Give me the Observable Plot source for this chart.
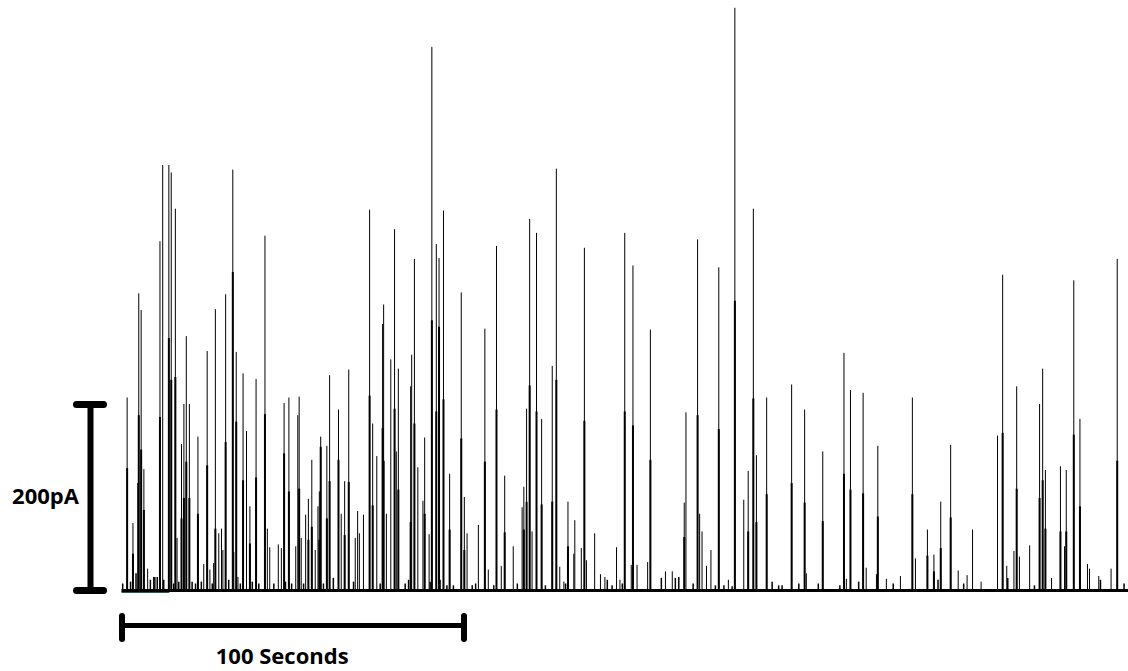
<!DOCTYPE html>
<html><head><meta charset="utf-8">
<script src="https://cdn.jsdelivr.net/npm/d3@7"></script>
<script src="https://cdn.jsdelivr.net/npm/@observablehq/plot@0.6"></script>
<style>html,body{margin:0;padding:0;background:#fff;} #chart svg{display:block;}</style>
</head><body><div id="chart"></div>
<script>
// Each spike: [time (s), peak amplitude (pA), shoulder amplitude (pA) or null]
const spikes = [
[1.5,207,131],[3.2,72,39],[4.6,115,null],[4.9,319,188],[5.6,301,151],[6.4,130,86],[7.5,23,null],[9.2,14,null],
[11.1,375,186],[11.9,457,null],[13.7,457,271],[14.4,449,226],[15.6,410,229],[16.1,56,null],[17.4,157,77],[18.1,200,99],
[18.8,273,138],[19.7,200,99],[22.2,165,82],[23.9,28,null],[24.9,257,134],[25.7,22,null],[26.8,29,null],[27.3,302,66],
[28.3,61,null],[29.1,66,null],[29.5,43,null],[30.3,318,159],[32.4,452,342],[32.7,41,null],[33.4,256,181],[33.9,14,null],
[35.4,233,118],[36.4,171,null],[37.4,90,50],[39.2,227,121],[41.8,381,189],[42.5,66,null],[43.2,46,null],[45.7,49,null],
[46.6,45,null],[47.4,201,147],[48.8,207,106],[50.8,47,null],[51.4,188,null],[51.8,208,109],[52.4,56,null],[53.7,81,null],
[54.5,98,54],[55.5,140,68],[56.5,43,null],[57.3,90,null],[57.7,106,54],[58.1,165,154],[59.9,155,77],[60.7,231,117],
[63.3,194,140],[64.1,82,null],[65.1,117,59],[66.3,237,116],[68.2,56,null],[68.9,85,null],[69.4,61,null],[70.6,81,null],
[72.4,409,209],[73.3,179,91],[74.5,144,null],[76.2,286,174],[76.5,307,139],[77.3,82,null],[78.6,248,null],[79.7,388,195],
[80.2,149,null],[80.8,238,108],[84.4,219,73],[84.7,253,null],[85.5,356,179],[86.5,132,null],[88.0,96,null],[88.5,164,82],
[89.8,60,null],[90.6,584,290],[91.9,372,192],[92.7,357,283],[94.0,408,205],[95.8,125,65],[99.2,320,163],[100.1,100,43],
[100.9,61,null],[104.2,70,null],[106.1,281,138],[107.1,22,null],[109.5,370,194],[110.9,26,null],[111.9,123,62],[114.4,47,null],
[117.0,89,null],[117.5,111,65],[118.3,195,95],[119.2,399,220],[119.9,63,null],[121.2,384,192],[122.7,184,92],[125.8,241,95],
[127.0,453,226],[128.0,25,null],[129.2,9,null],[130.4,95,47],[132.1,39,null],[132.4,75,null],[134.3,45,null],[135.2,368,182],
[135.8,32,null],[138.2,61,null],[139.9,17,null],[141.2,14,null],[144.6,46,null],[145.6,11,null],[147.0,384,192],[148.9,27,null],
[149.4,349,177],[150.6,27,null],[153.7,30,null],[154.5,280,140],[158.9,20,null],[160.9,20,null],[164.4,94,57],[164.9,191,null],
[168.3,377,188],[168.9,82,null],[169.6,63,null],[170.9,26,null],[172.2,43,null],[174.5,347,173],[177.3,11,null],[179.2,626,311],
[181.8,97,null],[183.1,128,63],[184.6,410,206],[185.5,145,73],[188.5,207,103],[195.8,221,115],[199.6,194,94],[200.1,18,null],
[204.9,149,74],[211.1,255,125],[211.8,12,null],[213.0,215,108],[216.7,212,104],[217.6,24,null],[220.6,17,null],[221.0,155,79],
[223.5,12,null],[227.6,15,null],[231.1,207,103],[232.0,34,null],[235.5,65,37],[237.4,38,20],[239.4,95,45],[242.3,156,78],
[244.5,21,null],[247.1,16,null],[248.7,65,null],[251.2,9,null],[256.0,166,null],[257.5,339,169],[258.7,26,null],[260.8,42,null],
[261.6,219,109],[262.4,36,null],[265.4,48,null],[268.3,200,99],[269.2,238,118],[270.0,129,66],[271.8,13,null],[274.4,133,63],
[275.6,47,null],[276.1,129,63],[278.3,333,167],[280.1,184,90],[282.3,28,null],[282.9,23,null],[285.6,15,null],[289.2,23,null],
[291.0,356,139]
];
// Small baseline events: [time (s), amplitude (pA)]
const minorEvents = [
[0.2,7],[2.5,9],[4.1,18],[8.3,11],[9.6,14],[10.3,14],[12.2,11],[15.1,7],[16.6,9],[20.5,9],[21.5,7],[23.2,9],[26.4,7],
[31.2,11],[34.6,7],[38.1,9],[40.0,7],[44.4,7],[47.8,9],[49.6,7],[53.1,7],[58.9,7],[61.8,13],[67.7,9],[75.5,7],[82.8,7],
[83.8,11],[90.1,9],[93.0,11],[95.0,5],[96.9,5],[102.4,5],[103.4,7],[108.7,5],[115.6,7],[123.8,5],[129.7,7],[141.9,11],
[143.3,5],[146.3,7],[157.7,13],[161.8,13],[162.8,14],[167.0,7],[173.5,5],[176.0,5],[178.4,4],[190.1,9],[192.0,5],[193.0,5],
[197.9,7],[203.6,7],[209.9,5],[215.4,9],[225.5,7],[238.6,11],[246.1,7],[259.0,13],[266.8,5],[286.1,11],[293.0,7]
];
const scaleBarTime = 100;      // seconds
const scaleBarCurrent = 200;   // pA
const timeLabel = "100 Seconds";
const currentLabel = "200pA";
const recordingEnd = 294.3;    // seconds

const spikeData = spikes.map(([t, peak, shoulder]) => ({t, peak, shoulder}));
const shoulderData = spikeData.filter(d => d.shoulder != null);
const minorData = minorEvents.map(([t, amp]) => ({t, amp}));

// Layout: page pixels <-> data units
const W = 1128, H = 671;
const pxPerSec = 3.42, pxPerPA = 0.93, x0 = 121.5, y0 = 590;
const px2t = px => (px - x0) / pxPerSec;
const px2a = py => (y0 - py) / pxPerPA;

const chart = Plot.plot({
  width: W, height: H, margin: 0,
  style: {background: "#fff"},
  x: {domain: [px2t(0), px2t(W)], axis: null},
  y: {domain: [px2a(H), px2a(0)], axis: null},
  marks: [
    Plot.ruleY([px2a(591.8)], {x1: 0, x2: 14, stroke: "#2e5a5a", strokeWidth: 1.5}),
    Plot.ruleY([0], {x1: 0, x2: recordingEnd, stroke: "#000", strokeWidth: 3}),
    Plot.ruleX(minorData, {x: "t", y1: 0, y2: "amp", stroke: "#000", strokeWidth: 1.5}),
    Plot.ruleX(spikeData, {x: "t", y1: 0, y2: "peak", stroke: "#000", strokeWidth: 1}),
    Plot.ruleX(shoulderData, {x: "t", y1: 0, y2: "shoulder", stroke: "#000", strokeWidth: 2}),
    // vertical scale bar (200 pA)
    Plot.ruleX([px2t(90)], {y1: 0, y2: scaleBarCurrent, stroke: "#000", strokeWidth: 6}),
    Plot.ruleY([0, scaleBarCurrent], {x1: px2t(76.5), x2: px2t(103.5), stroke: "#000", strokeWidth: 7, strokeLinecap: "round"}),
    // horizontal scale bar (100 s)
    Plot.ruleY([px2a(625)], {x1: 0, x2: scaleBarTime, stroke: "#000", strokeWidth: 5}),
    Plot.ruleX([0, scaleBarTime], {y1: px2a(616), y2: px2a(639), stroke: "#000", strokeWidth: 6, strokeLinecap: "round"}),
    Plot.text([{label: currentLabel}], {x: px2t(45), y: px2a(496), text: "label", fontFamily: "Open Sans", fontWeight: "bold", fontSize: 22, fill: "#000"}),
    Plot.text([{label: timeLabel}], {x: px2t(281.7), y: px2a(656), text: "label", fontFamily: "Open Sans", fontWeight: "bold", fontSize: 22, fill: "#000"})
  ]
});
document.getElementById("chart").appendChild(chart);
</script>
</body></html>
